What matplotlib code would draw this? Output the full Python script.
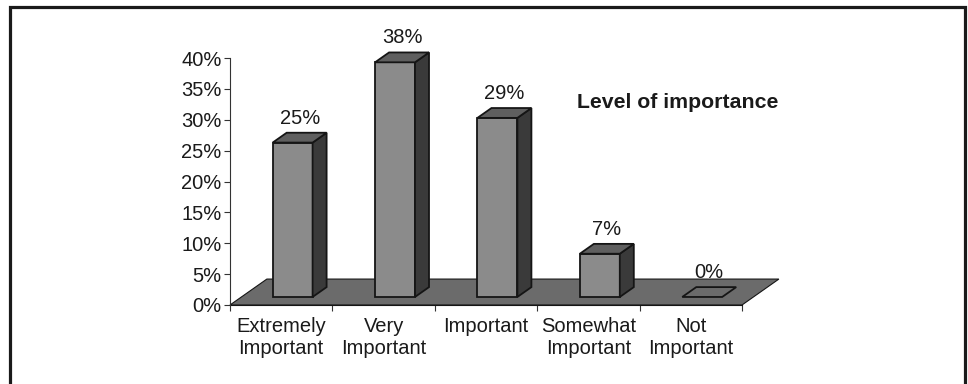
import matplotlib
matplotlib.use("Agg")
import matplotlib.pyplot as plt
from matplotlib.patches import Polygon, Rectangle
import numpy as np

plt.rcParams['font.family'] = ['Liberation Sans', 'DejaVu Sans']

# data
categories = ['Extremely\nImportant', 'Very\nImportant', 'Important', 'Somewhat\nImportant', 'Not\nImportant']
values = [25, 38, 29, 7, 0]
value_labels = ['25%', '38%', '29%', '7%', '0%']
yticks = [0, 5, 10, 15, 20, 25, 30, 35, 40]
legend_title = 'Level of importance'

# 3d look (data units)
depth_x, depth_y = 0.36, 4.2   # floor depth
front_f, back_f = 0.31, 0.69   # where bars sit inside the floor depth
bar_w = 0.39

c_front = '#8b8b8b'
c_side = '#3a3a3a'
c_top = '#5f5f5f'
c_floor = '#6b6b6b'
c_edge = '#151515'
txt = '#1a1a1a'

fig = plt.figure(figsize=(9.68, 3.84), dpi=100)
fig.patch.set_facecolor('white')
ax = fig.add_axes([230/968, (384-305)/384, 512/968, 247/384])
ax.set_xlim(-0.5, len(categories) - 0.5)
ax.set_ylim(0, 40)
ax.patch.set_alpha(0)

# floor
n = len(categories)
floor = Polygon([(-0.5, 0), (n - 0.5, 0), (n - 0.5 + depth_x, depth_y), (-0.5 + depth_x, depth_y)],
                closed=True, facecolor=c_floor, edgecolor=c_edge, lw=0.8, clip_on=False, zorder=1)
ax.add_patch(floor)

for i, v in enumerate(values):
    fx = i - bar_w / 2 + front_f * depth_x
    fy = front_f * depth_y
    dx = (back_f - front_f) * depth_x
    dy = (back_f - front_f) * depth_y
    if v > 0:
        front = Polygon([(fx, fy), (fx + bar_w, fy), (fx + bar_w, fy + v), (fx, fy + v)],
                        facecolor=c_front, edgecolor=c_edge, lw=1.3, clip_on=False, zorder=3)
        side = Polygon([(fx + bar_w, fy), (fx + bar_w + dx, fy + dy), (fx + bar_w + dx, fy + v + dy), (fx + bar_w, fy + v)],
                       facecolor=c_side, edgecolor=c_edge, lw=1.3, clip_on=False, zorder=3)
        top = Polygon([(fx, fy + v), (fx + bar_w, fy + v), (fx + bar_w + dx, fy + v + dy), (fx + dx, fy + v + dy)],
                      facecolor=c_top, edgecolor=c_edge, lw=1.3, clip_on=False, zorder=3)
        for p in (front, side, top):
            ax.add_patch(p)
    else:
        flat = Polygon([(fx, fy), (fx + bar_w, fy), (fx + bar_w + dx, fy + dy), (fx + dx, fy + dy)],
                       facecolor=c_floor, edgecolor=c_edge, lw=1.3, clip_on=False, zorder=3)
        ax.add_patch(flat)
    ax.annotate(value_labels[i], (i + (front_f + back_f) / 2 * depth_x, v + back_f * depth_y),
                xytext=(0, 5), textcoords='offset pixels', ha='center', va='bottom',
                fontsize=14.5, color=txt, annotation_clip=False, zorder=5)

# axes styling
for s in ('top', 'right'):
    ax.spines[s].set_visible(False)
ax.spines['left'].set_color('#333333')
ax.spines['bottom'].set_color(c_edge)
ax.spines['left'].set_zorder(4)
ax.set_yticks(yticks)
ax.set_yticklabels([f'{t}%' for t in yticks])
ax.tick_params(axis='y', direction='out', length=4, width=0.8, color='#333333',
               labelsize=14.5, labelcolor=txt, pad=2)
ax.set_xticks(np.arange(n))
ax.set_xticklabels(categories)
ax.set_xticks(np.arange(n + 1) - 0.5, minor=True)
ax.tick_params(axis='x', which='major', length=0, labelsize=14.5, labelcolor=txt, pad=9)
ax.tick_params(axis='x', which='minor', direction='out', length=4, width=0.8, color='#333333')

fig.text(577/968, 1 - 102/384, legend_title, fontsize=15.3, fontweight='bold',
         color=txt, ha='left', va='center')

# outer frame
fig.patches.append(Rectangle((10/968, -0.1), 955/968, 1.1 - 7/384, transform=fig.transFigure,
                             fill=False, edgecolor='#1a1a1a', lw=2.3, clip_on=False))

fig.savefig('out.png', dpi=100)
